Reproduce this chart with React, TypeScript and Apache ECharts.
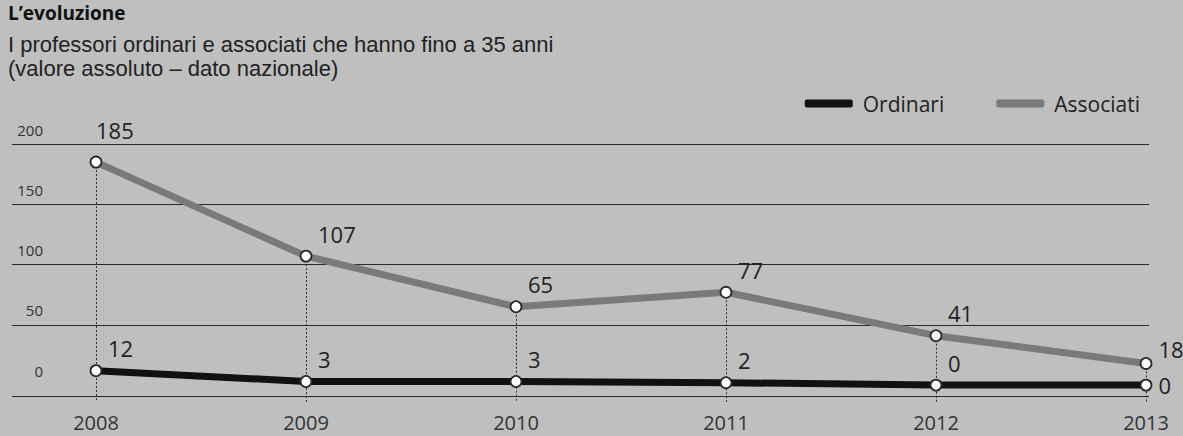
import React, { useEffect, useRef } from 'react';
import * as echarts from 'echarts';

const years = ['2008', '2009', '2010', '2011', '2012', '2013'];
const ordinari = [12, 3, 3, 2, 0, 0];
const associati = [185, 107, 65, 77, 41, 18];
const yLabelValues = [0, 50, 100, 150, 200];
const gridLineValues = [-9, 50, 100, 150, 200];
const Y_MIN = -14;
const Y_MAX = 200;

const FONT = "'Open Sans', 'DejaVu Sans', sans-serif";
const SUB_FONT = "'Liberation Sans', Arial, sans-serif";

function buildData(values: number[], lastOffset: number[], firstOffset?: number[]) {
  return values.map((v, i) => {
    if (i === values.length - 1) {
      return {
        value: v,
        label: { position: 'right', align: 'left', distance: 6, offset: lastOffset },
      };
    }
    if (i === 0 && firstOffset) {
      return { value: v, label: { offset: firstOffset } };
    }
    return v;
  });
}

export default function App() {
  const ref = useRef<HTMLDivElement>(null);

  useEffect(() => {
    if (!ref.current) return;
    const chart = echarts.init(ref.current, undefined, { renderer: 'svg' });
    const labelStyle = {
      show: true,
      position: 'top',
      align: 'left',
      offset: [12, 0],
      distance: 5,
      fontSize: 22,
      color: '#222',
      fontFamily: FONT,
    };
    const symbolStyle = { color: '#ffffff', borderColor: '#2a2a2a', borderWidth: 1.8 };
    const subStyle = { fontSize: 22, fontWeight: 'normal', color: '#222', fontFamily: SUB_FONT };

    chart.setOption({
      animation: false,
      backgroundColor: 'transparent',
      textStyle: { fontFamily: FONT },
      title: [
        {
          text: 'L’evoluzione',
          left: 8,
          top: 3,
          padding: 0,
          textStyle: { fontSize: 19, fontWeight: 'bold', color: '#111', fontFamily: FONT },
        },
        {
          text: 'I professori ordinari e associati che hanno fino a 35 anni',
          left: 8,
          top: 33,
          padding: 0,
          textStyle: subStyle,
        },
        {
          text: '(valore assoluto – dato nazionale)',
          left: 8,
          top: 57.7,
          padding: 0,
          textStyle: subStyle,
        },
      ],
      legend: {
        right: 38,
        top: 88,
        icon: 'roundRect',
        itemWidth: 48,
        itemHeight: 8,
        itemGap: 52,
        textStyle: { fontSize: 21, color: '#222', fontFamily: FONT, padding: [0, 0, 0, 5] },
        data: [
          { name: 'Ordinari', itemStyle: { color: '#111', borderWidth: 0 } },
          { name: 'Associati', itemStyle: { color: '#7a7a7a', borderWidth: 0 } },
        ],
      },
      grid: [
        { left: 96, right: 37, top: 144, bottom: 34 },
        { left: 12, right: 34, top: 144, bottom: 34 },
      ],
      xAxis: [
        {
          gridIndex: 0,
          type: 'category',
          data: years,
          boundaryGap: false,
          axisLine: { show: false },
          axisTick: { show: false },
          splitLine: { show: false },
          axisLabel: { fontSize: 20, color: '#333', margin: 10, fontFamily: FONT },
        },
        { gridIndex: 1, type: 'value', min: 0, max: 1, show: false },
      ],
      yAxis: [
        { gridIndex: 0, type: 'value', min: Y_MIN, max: Y_MAX, show: false },
        {
          gridIndex: 1,
          type: 'value',
          min: Y_MIN,
          max: Y_MAX,
          axisLine: { show: false },
          axisTick: { show: false, customValues: gridLineValues },
          splitLine: { show: true, lineStyle: { color: '#2a2a2a', width: 1 } },
          axisLabel: {
            show: true,
            inside: true,
            customValues: yLabelValues,
            align: 'right',
            margin: 31,
            verticalAlign: 'bottom',
            padding: [0, 0, 7, 0],
            fontSize: 15,
            color: '#333',
            fontFamily: FONT,
          },
        },
      ],
      series: [
        {
          name: 'Associati',
          type: 'line',
          xAxisIndex: 0,
          yAxisIndex: 0,
          data: buildData(associati, [0, -14], [0, -10]),
          color: '#7a7a7a',
          lineStyle: { width: 7, color: '#7a7a7a' },
          symbol: 'circle',
          symbolSize: 11,
          itemStyle: symbolStyle,
          label: labelStyle,
          z: 3,
          markLine: {
            silent: true,
            z: 1,
            symbol: ['none', 'none'],
            label: { show: false },
            lineStyle: { type: [2, 2], color: '#2a2a2a', width: 1 },
            data: associati.map((v, i) => [
              { coord: [i, v] },
              { coord: [i, Y_MIN] },
            ]),
          },
        },
        {
          name: 'Ordinari',
          type: 'line',
          xAxisIndex: 0,
          yAxisIndex: 0,
          data: buildData(ordinari, [0, 0]),
          color: '#111',
          lineStyle: { width: 7, color: '#111' },
          symbol: 'circle',
          symbolSize: 11,
          itemStyle: symbolStyle,
          label: labelStyle,
          z: 4,
        },
      ],
    });
    return () => chart.dispose();
  }, []);

  return (
    <div
      style={{
        position: 'fixed',
        left: 0,
        top: 0,
        width: 1183,
        height: 436,
        background: '#bfbfbf',
      }}
    >
      <div ref={ref} style={{ width: 1183, height: 436 }} />
    </div>
  );
}
